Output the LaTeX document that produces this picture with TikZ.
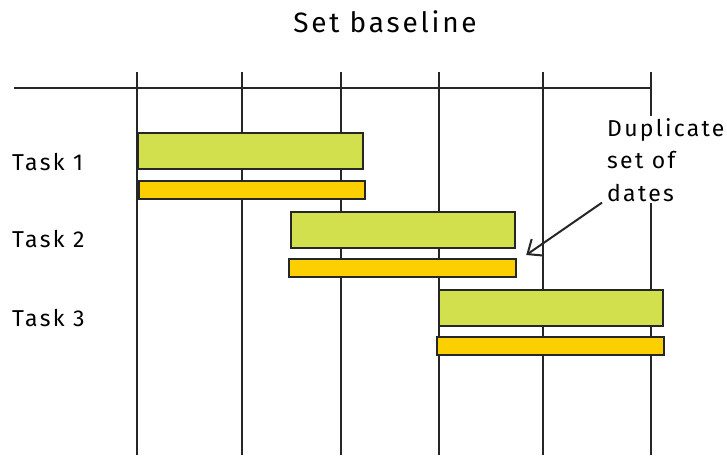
\documentclass[tikz,border=0pt]{standalone}
\usepackage{fontspec}
\setmainfont{Fira Sans}[LetterSpace=10]
\usepackage{xcolor}
\usetikzlibrary{arrows.meta,positioning,calc}

\definecolor{barGreen}{RGB}{211,224,78}
\definecolor{barYellow}{RGB}{252,208,0}

\begin{document}
\begin{tikzpicture}[
    x=1pt, y=-1pt,
    grid/.style={line width=1.5pt, black!85},
    plan/.style={rectangle, draw=black!85, line width=2.2pt, fill=barGreen, anchor=north west, inner sep=0pt, minimum height=36pt},
    actual/.style={rectangle, draw=black!85, line width=2.2pt, fill=barYellow, anchor=north west, inner sep=0pt, minimum height=18pt},
    label/.style={font=\fontsize{23}{28}\selectfont, anchor=west, inner sep=0pt},
    arrow/.style={-{Straight Barb[length=12pt,width=20pt]}, line width=2pt, black!85}
]
    \useasboundingbox (0,0) rectangle (727,455);

    % Title
    \node[font=\fontsize{28}{32}\selectfont] (title) at (385,22) {Set baseline};

    % Time axis
    \draw[grid] (14,88) -- (651,88);
    \foreach \x in {137,242,341,439,543,651}
        \draw[grid] (\x,72) -- (\x,455);

    % Task names
    \node[label] (t1) at (12,162) {Task 1};
    \node[label] (t2) at (12,239) {Task 2};
    \node[label] (t3) at (12,318) {Task 3};

    % Baseline bars (green) and duplicate dates (yellow)
    \node[plan, minimum width=225pt] (p1) at (137,132) {};
    \node[actual, minimum width=226pt] (a1) at (138,180) {};
    \node[plan, minimum width=224pt] (p2) at (290,211) {};
    \node[actual, minimum width=227pt] (a2) at (288,258) {};
    \node[plan, minimum width=224pt] (p3) at (438,289) {};
    \node[actual, minimum width=227pt] (a3) at (436,336) {};

    % Note
    \node[font=\fontsize{23}{32.5}\selectfont, align=left, fill=white, anchor=north west, inner sep=2pt] (dup) at (605,116) {Duplicate\\set of\\dates};
    \coordinate (tip) at ($(a2.north east)+(9,-3)$);
    \draw[arrow] ($(dup.south west)+(-3,-1)$) -- (tip);
\end{tikzpicture}
\end{document}
